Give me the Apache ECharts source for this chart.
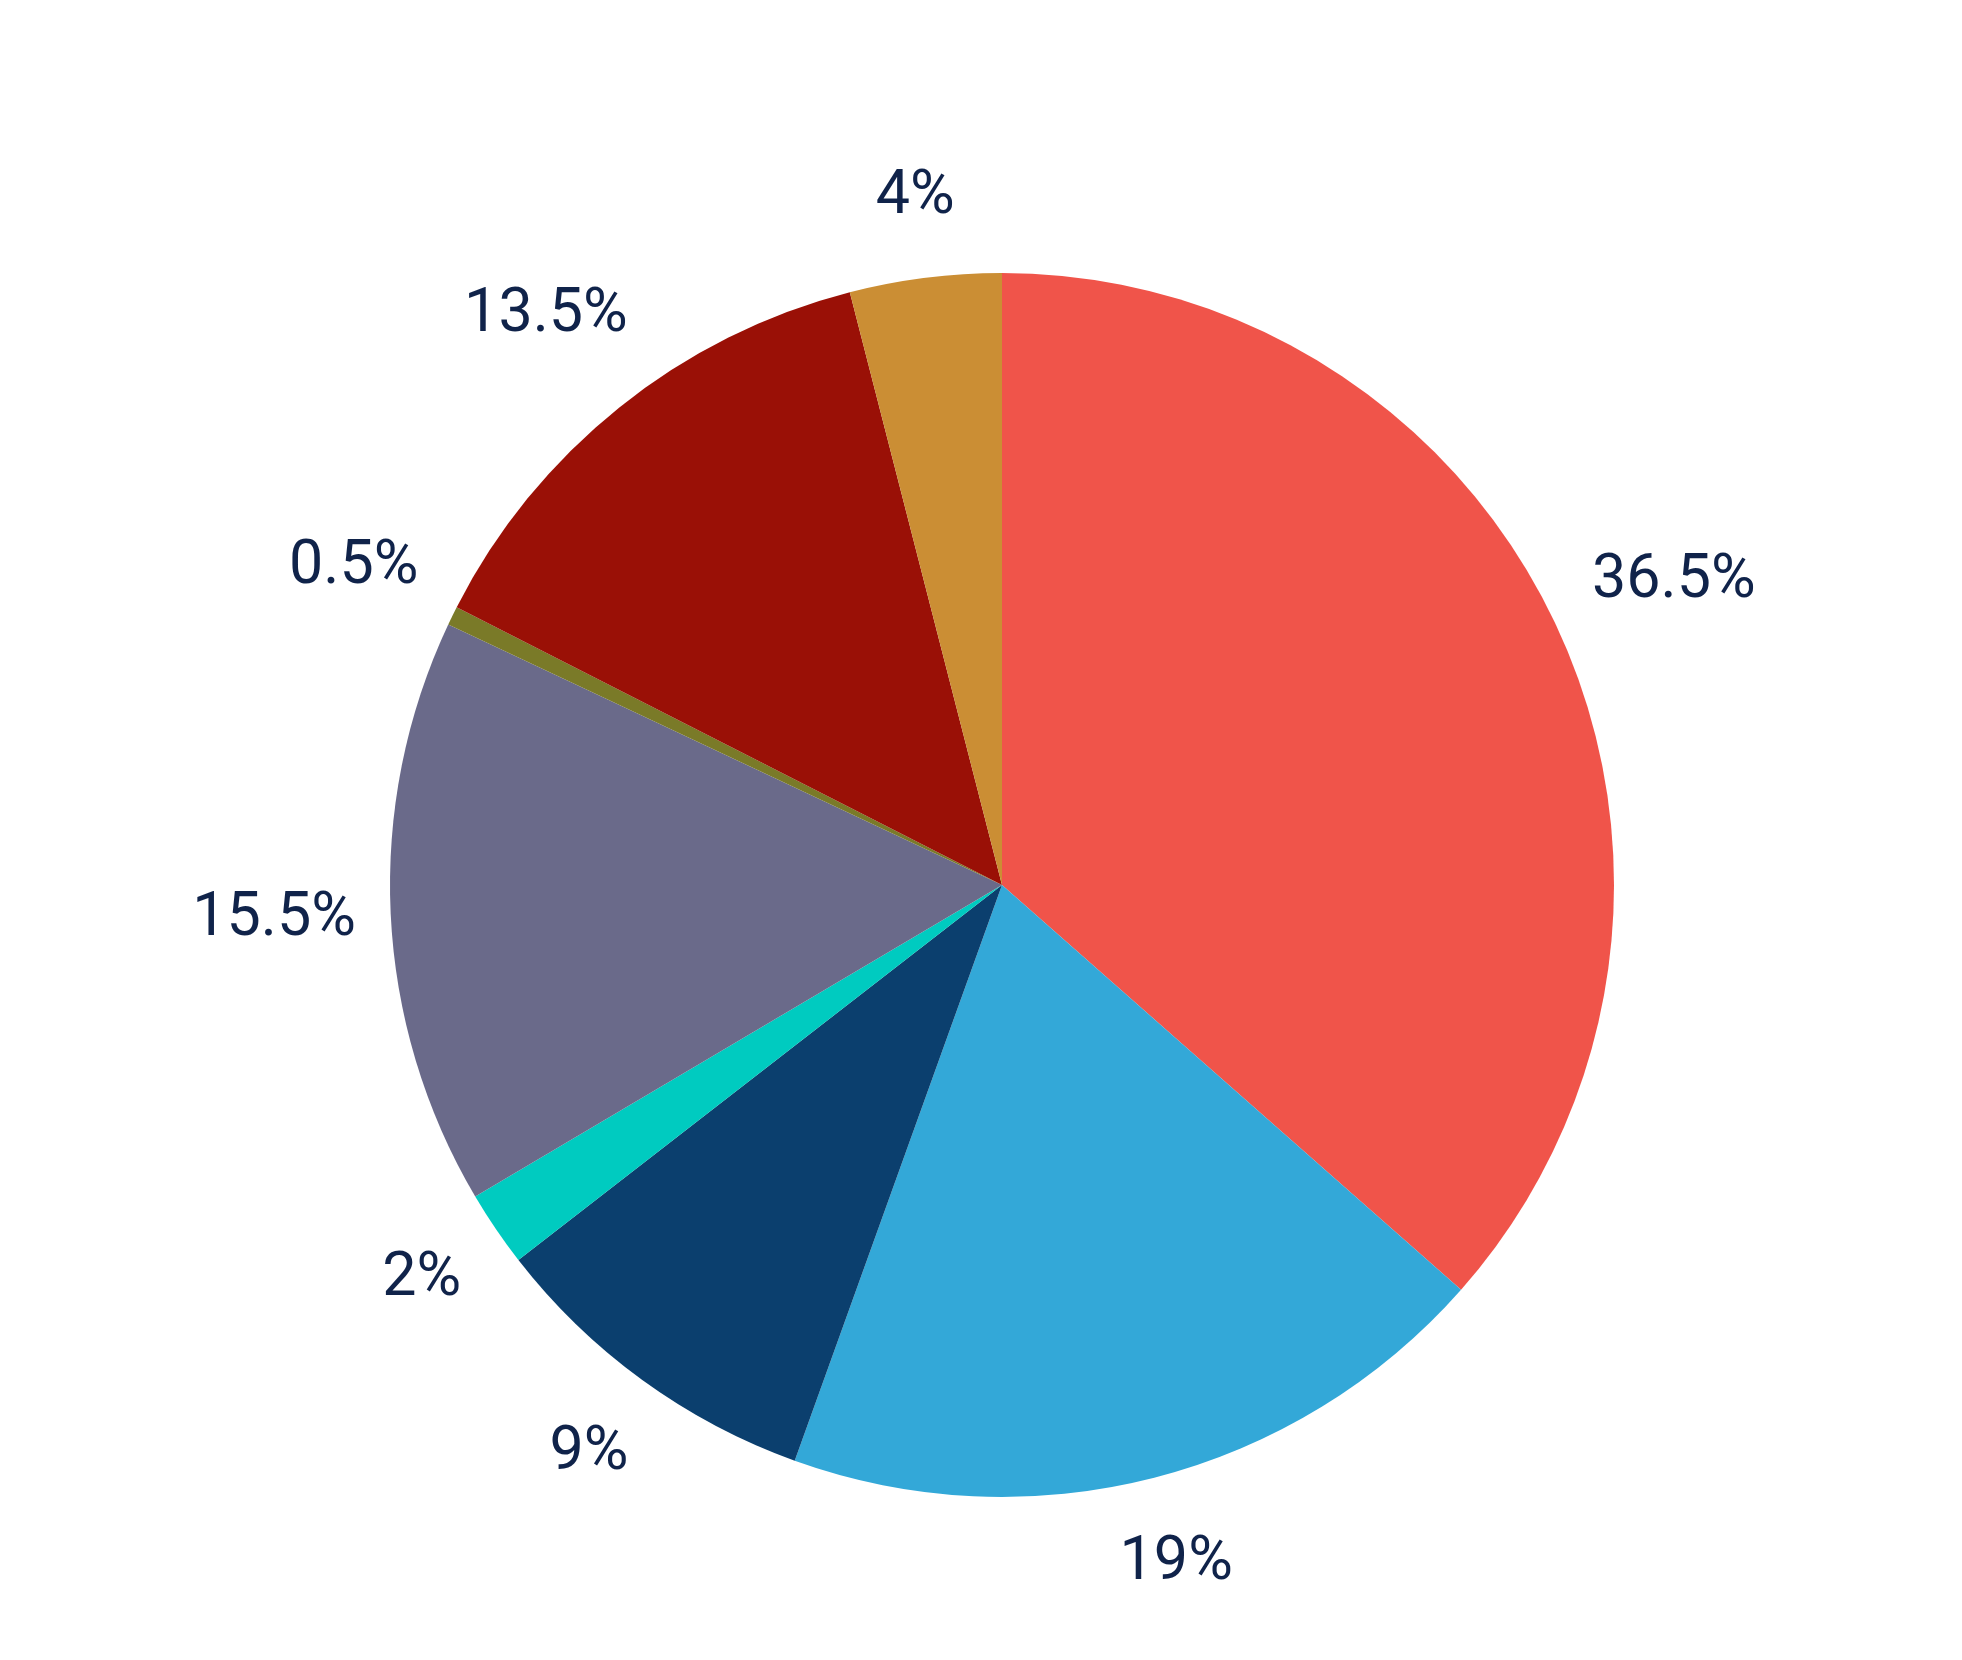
<!DOCTYPE html>
<html>
<head>
<meta charset="utf-8">
<script src="https://cdn.jsdelivr.net/npm/echarts@6.0.0/dist/echarts.min.js"></script>
<style>
  html, body { margin: 0; padding: 0; background: #ffffff; }
  #chart { width: 1962px; height: 1660px; }
</style>
</head>
<body>
<div id="chart"></div>
<script>
// slices, clockwise from 12 o'clock
const shares = [36.5, 19, 9, 2, 15.5, 0.5, 13.5, 4];
const shareLabels = ['36.5%', '19%', '9%', '2%', '15.5%', '0.5%', '13.5%', '4%'];
const sliceColors = ['#f0544a', '#33a8d8', '#0b3f6e', '#00cbc0', '#6a6a8a', '#7a7a28', '#9a1006', '#cb8e34'];

const cx = 1002, cy = 885, R = 612;
const labelGap = 645; // distance from centre to the nearest edge of a label

const total = shares.reduce((a, b) => a + b, 0);
// mid angle of each slice, radians clockwise from top
let acc = 0;
const midAngles = shares.map(v => {
  const a = (acc + v / 2) / total * Math.PI * 2;
  acc += v;
  return a;
});

const myChart = echarts.init(document.getElementById('chart'));
myChart.setOption({
  backgroundColor: '#ffffff',
  animation: false,
  series: [{
    type: 'pie',
    center: [cx, cy],
    radius: R,
    startAngle: 90,
    clockwise: true,
    avoidLabelOverlap: false,
    silent: true,
    data: shares.map((v, i) => ({ value: v, name: shareLabels[i], itemStyle: { color: sliceColors[i] } })),
    itemStyle: { borderWidth: 0 },
    label: {
      show: true,
      position: 'outside',
      formatter: p => shareLabels[p.dataIndex],
      fontFamily: 'Roboto',
      fontSize: 61,
      color: '#10234a'
    },
    labelLine: { show: false },
    labelLayout: function (params) {
      const t = midAngles[params.dataIndex];
      const s = Math.sin(t), c = Math.cos(t);
      const hw = params.labelRect.width / 2;
      const hh = params.labelRect.height * 0.7;
      const r = labelGap + Math.abs(s) * hw + Math.abs(c) * hh;
      return {
        x: cx + r * s,
        y: cy - r * c,
        align: 'center',
        verticalAlign: 'middle'
      };
    }
  }]
});
</script>
</body>
</html>
